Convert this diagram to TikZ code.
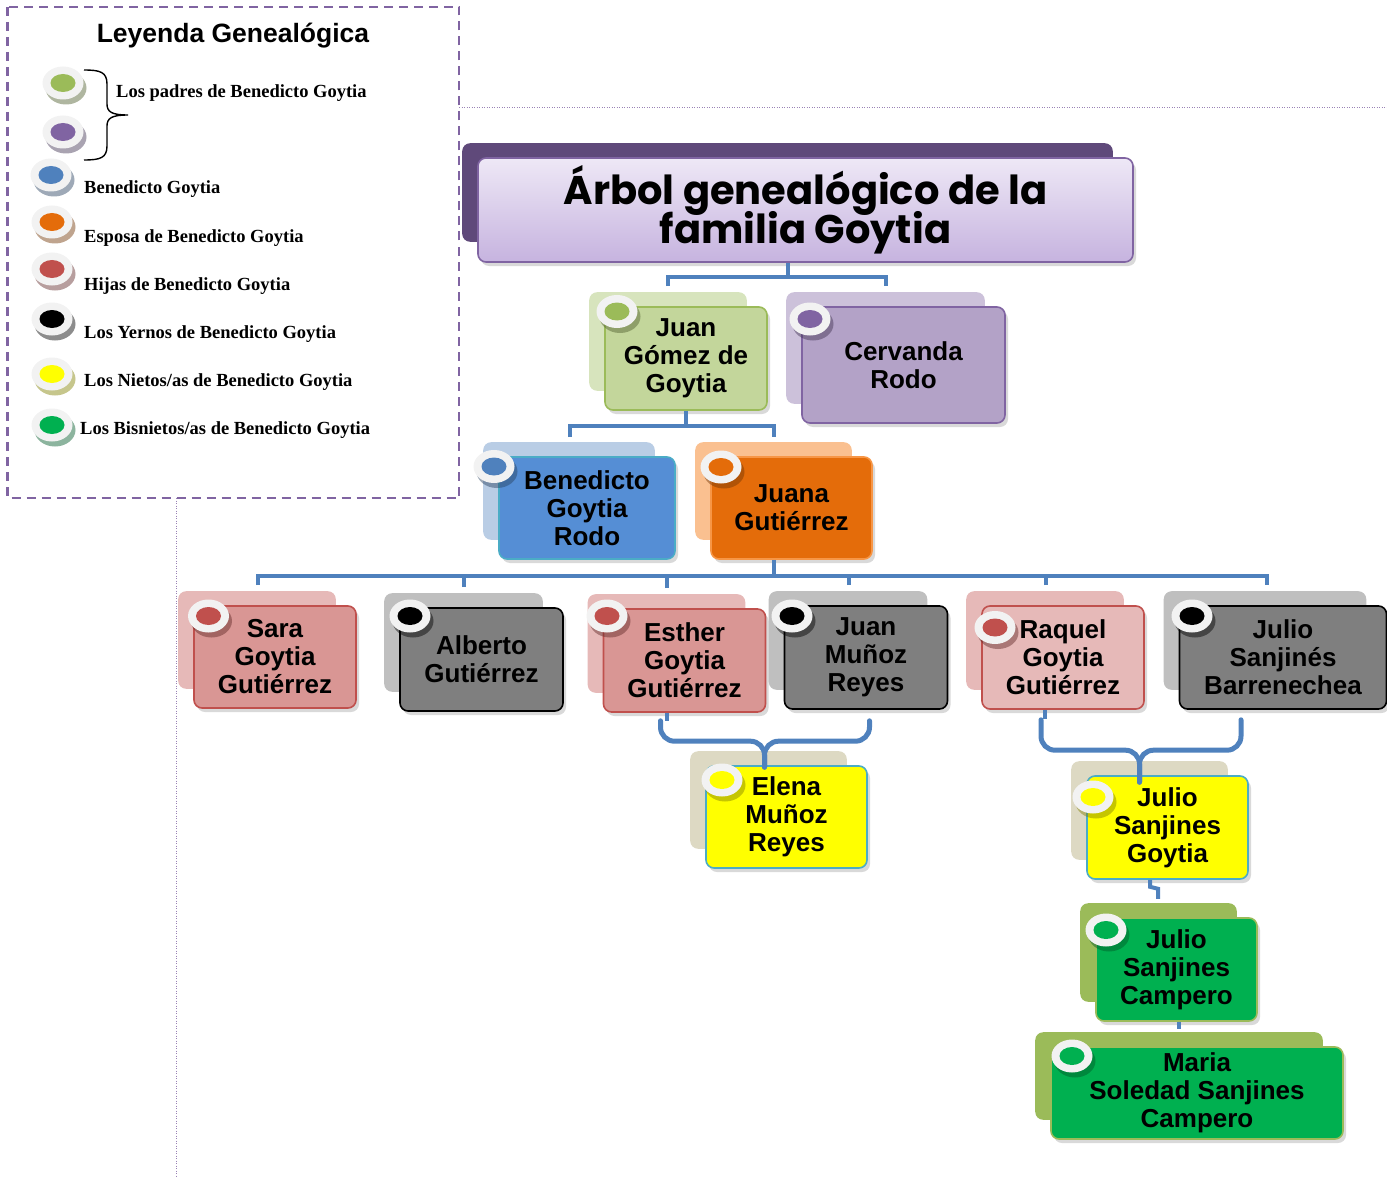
\documentclass[tikz,border=0pt]{standalone}
\usepackage{fontspec}
\setmainfont{Liberation Serif}
\setsansfont{Liberation Sans}
\newfontfamily\titlefont{Poppins}
\usetikzlibrary{calc,shadows,backgrounds}

\definecolor{linkblue}{HTML}{4F81BD}
\definecolor{legendpurple}{HTML}{8064A2}
\definecolor{titleback}{HTML}{5F497A}
\definecolor{titletop}{HTML}{EEE8F6}
\definecolor{titlebot}{HTML}{C6B3DF}
\definecolor{greenfront}{HTML}{C3D69B}
\definecolor{greenback}{HTML}{D7E4BD}
\definecolor{greenline}{HTML}{9BBB59}
\definecolor{purplefront}{HTML}{B3A2C7}
\definecolor{purpleback}{HTML}{CCC1DA}
\definecolor{bluefront}{HTML}{558ED5}
\definecolor{blueback}{HTML}{B9CDE5}
\definecolor{tealline}{HTML}{4BACC6}
\definecolor{orangefront}{HTML}{E46C0A}
\definecolor{orangeback}{HTML}{FAC090}
\definecolor{orangeline}{HTML}{F79646}
\definecolor{redfront}{HTML}{D99694}
\definecolor{redback}{HTML}{E6B9B8}
\definecolor{redline}{HTML}{C0504D}
\definecolor{grayfront}{HTML}{7F7F7F}
\definecolor{grayback}{HTML}{BFBFBF}
\definecolor{yellowfront}{HTML}{FFFF00}
\definecolor{yellowback}{HTML}{DDD9C3}
\definecolor{bisfront}{HTML}{00B050}
\definecolor{dotblue}{HTML}{4F81BD}
\definecolor{dotpurple}{HTML}{8064A2}
\definecolor{ringwhite}{HTML}{F2F2F2}

\tikzset{
  person/.style 2 args={fill=#1, draw=#2, line width=1.6pt, rounded corners=8pt,
    align=center, inner sep=0pt,
    font=\sffamily\bfseries\fontsize{26}{28}\selectfont,
    drop shadow={shadow xshift=3pt, shadow yshift=-4pt, opacity=0.3}},
  backbox/.style={fill=#1, rounded corners=8pt},
  link/.style={linkblue, line width=4pt},
  bracelink/.style={linkblue, line width=5pt, rounded corners=14pt, line cap=round},
  legtext/.style={anchor=west, inner sep=0pt, font=\rmfamily\bfseries\fontsize{18.5}{20}\selectfont},
  dotline/.style={legendpurple!80, line width=0.8pt, dash pattern=on 1pt off 1.5pt},
  pics/badge/.style={code={
    \fill[#1!50!black, opacity=0.45] (3,5) ellipse [x radius=20.5pt, y radius=16.5pt];
    \fill[ringwhite] (0,0) ellipse [x radius=20.5pt, y radius=16.5pt];
    \fill[#1] (0,0) ellipse [x radius=12.5pt, y radius=9pt];
  }},
}

\begin{document}
\begin{tikzpicture}[x=1pt, y=-1pt]
    \useasboundingbox (0,0) rectangle (1387,1177);

    % Legend box
    \draw[legendpurple, line width=2.5pt, dash pattern=on 9pt off 6pt] (7.5,7) rectangle (459,498);
    \node[font=\sffamily\bfseries\fontsize{26.5}{28}\selectfont] (legtitle) at (233,36) {Leyenda Genealógica};
    \draw[dotline] (459,107) -- (1387,107);
    \draw[dotline] (176,498) -- (176,1177);

    % Legend badges and texts
    \pic at (63,83) {badge=greenline};
    \pic at (63,132) {badge=dotpurple};
    \draw[line width=1.4pt] (84,70) .. controls (100,70) and (107,72) .. (107,84) -- (107,104)
        .. controls (107,112) and (112,115) .. (128,115)
        .. controls (112,115) and (107,118) .. (107,126) -- (107,146)
        .. controls (107,158) and (100,160) .. (84,160);
    \node[legtext] (lpadres) at (116,93) {Los padres de Benedicto Goytia};
    \pic at (51,175) {badge=dotblue};
    \node[legtext] (lbene) at (84,189) {Benedicto Goytia};
    \pic at (52,222) {badge=orangefront};
    \node[legtext] (lesposa) at (84,238) {Esposa de Benedicto Goytia};
    \pic at (52,269) {badge=redline};
    \node[legtext] (lhijas) at (84,286) {Hijas de Benedicto Goytia};
    \pic at (52,319) {badge=black};
    \node[legtext] (lyernos) at (84,334) {Los Yernos de Benedicto Goytia};
    \pic at (52,374) {badge=yellowfront};
    \node[legtext] (lnietos) at (84,382) {Los Nietos/as de Benedicto Goytia};
    \pic at (52,425) {badge=bisfront};
    \node[legtext] (lbisnietos) at (80,430) {Los Bisnietos/as de Benedicto Goytia};

    % Title
    \node[person={white}{legendpurple}, top color=titletop, bottom color=titlebot,
        minimum width=655pt, minimum height=104pt,
        font=\titlefont\bfseries\fontsize{40}{38}\selectfont] (title) at (805.5,210)
        {\raisebox{9pt}{\begin{tabular}{@{}c@{}}Árbol genealógico de la\\[-5pt]familia Goytia\end{tabular}}};

    % Family boxes
    \node[person={greenfront}{greenline}, minimum width=162pt, minimum height=103pt] (juan) at (686,358.5) {Juan\\Gómez de\\Goytia};
    \node[person={purplefront}{legendpurple}, minimum width=203pt, minimum height=116pt] (cerv) at (903.5,365) {Cervanda\\Rodo};
    \node[person={bluefront}{tealline}, minimum width=176pt, minimum height=102pt] (bene) at (587,508) {Benedicto\\Goytia\\Rodo};
    \node[person={orangefront}{orangeline}, minimum width=161pt, minimum height=102pt] (juana) at (791.5,508) {Juana\\Gutiérrez};
    \node[person={redfront}{redline}, minimum width=162pt, minimum height=102pt] (sara) at (275,657) {Sara\\Goytia\\Gutiérrez};
    \node[person={grayfront}{black}, minimum width=163pt, minimum height=103pt] (alberto) at (481.5,659.5) {Alberto\\Gutiérrez};
    \node[person={redfront}{redline}, minimum width=162pt, minimum height=103pt] (esther) at (684.5,660.5) {Esther\\Goytia\\Gutiérrez};
    \node[person={grayfront}{black}, minimum width=163pt, minimum height=103pt] (juanM) at (866,657.5) {Juan\\Muñoz\\Reyes};
    \node[person={redback}{redline}, minimum width=162pt, minimum height=103pt] (raquel) at (1063,657.5) {Raquel\\Goytia\\Gutiérrez};
    \node[person={grayfront}{black}, minimum width=207pt, minimum height=103pt] (julioB) at (1283,657.5) {Julio\\Sanjinés\\Barrenechea};
    \node[person={yellowfront}{tealline}, minimum width=161pt, minimum height=102pt] (elena) at (786.5,817) {Elena\\Muñoz\\Reyes};
    \node[person={yellowfront}{tealline}, minimum width=161pt, minimum height=103pt] (julioG) at (1167.5,827.5) {Julio\\Sanjines\\Goytia};
    \node[person={bisfront}{greenline}, minimum width=161pt, minimum height=103pt] (julioC) at (1176.5,969.5) {Julio\\Sanjines\\Campero};
    \node[person={bisfront}{greenline}, minimum width=292pt, minimum height=92pt] (maria) at (1197,1093) {Maria\\Soledad Sanjines\\Campero};

    % Back boxes
    \begin{scope}[on background layer]
        \fill[backbox=titleback] ($(title.north west)+(-15,-14)$) rectangle ($(title.south east)+(-21,-21)$);
        \foreach \n/\c in {juan/greenback, cerv/purpleback, bene/blueback, juana/orangeback,
                           sara/redback, alberto/grayback, esther/redback, juanM/grayback,
                           raquel/redback, julioB/grayback, elena/yellowback, julioG/yellowback,
                           julioC/greenline, maria/greenline}
            \fill[backbox=\c] ($(\n.north west)+(-15,-14)$) rectangle ($(\n.south east)+(-21,-20)$);
    \end{scope}

    % Connectors
    \draw[link] ([xshift=-17.5pt]title.south) -- ++(0,14) coordinate (t0);
    \draw[link] ([xshift=-18pt,yshift=20pt]juan.north) |- (t0) -| ([xshift=-17.5pt,yshift=20pt]cerv.north);
    \draw[link] (juan.south) -- ++(0,15) coordinate (j0);
    \draw[link] ([xshift=-17pt,yshift=19pt]bene.north) |- (j0) -| ([xshift=-17.5pt,yshift=19pt]juana.north);
    \draw[link] ([xshift=-17.5pt]juana.south) -- ++(0,16) coordinate (g0);
    \draw[link] ([xshift=-17pt,yshift=20pt]sara.north) |- (g0) -| ([xshift=-16pt,yshift=20pt]julioB.north);
    \foreach \n in {alberto, esther, juanM, raquel}
        \draw[link] ([xshift=-17.5pt,yshift=20pt]\n.north) -- ++(0,-11);

    % Braces down to the grandchildren
    \draw[link] ([xshift=-18pt]esther.south) -- ++(0,8);
    \coordinate (eTip) at ([xshift=-22pt,yshift=-2pt]elena.north);
    \coordinate (eMid) at ([yshift=26pt]eTip);
    \draw[bracelink] ([xshift=-24pt,yshift=-8pt]esther.south) |- (eMid) -- (eTip);
    \draw[bracelink] ([xshift=3.5pt,yshift=-11pt]juanM.south) |- (eMid) -- (eTip);
    \draw[link] ([xshift=-18pt]raquel.south) -- ++(0,9);
    \coordinate (rTip) at ([xshift=-28pt,yshift=-7pt]julioG.north);
    \coordinate (rMid) at ([yshift=32pt]rTip);
    \draw[bracelink] ([xshift=-22pt,yshift=-10pt]raquel.south) |- (rMid) -- (rTip);
    \draw[bracelink] ([xshift=-42pt,yshift=-10pt]julioB.south) |- (rMid) -- (rTip);
    \draw[link] ([xshift=-17.5pt]julioG.south) -- ++(0,7) -- ++(8,2) -- ++(0,10);
    \draw[link] ([xshift=2.5pt]julioC.south) -- ++(0,7);

    % Badges on the boxes
    \pic at (617,311.5) {badge=greenline};
    \pic at (810,319) {badge=dotpurple};
    \pic at (494,466.5) {badge=dotblue};
    \pic at (721,467) {badge=orangefront};
    \pic at (208.5,616) {badge=redline};
    \pic at (410,616) {badge=black};
    \pic at (607,616) {badge=redline};
    \pic at (792,616) {badge=black};
    \pic at (995,627.5) {badge=redline};
    \pic at (1192,616) {badge=black};
    \pic at (722,780) {badge=yellowfront};
    \pic at (1093,797) {badge=yellowfront};
    \pic at (1106,930) {badge=bisfront};
    \pic at (1072,1056) {badge=bisfront};
\end{tikzpicture}
\end{document}
